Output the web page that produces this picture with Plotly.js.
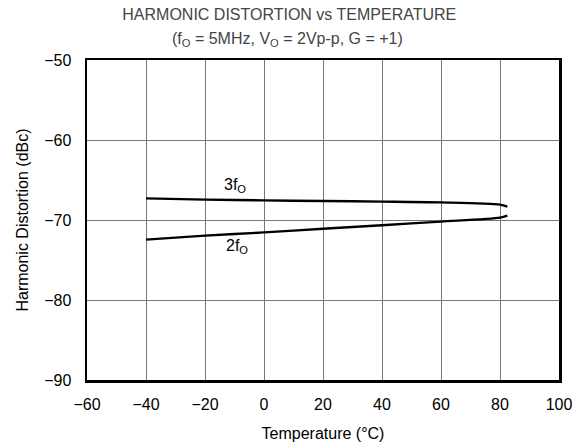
<!DOCTYPE html>
<html>
<head>
<meta charset="utf-8">
<script src="https://cdn.plot.ly/plotly-3.0.1.min.js"></script>
<style>html,body{margin:0;padding:0;background:#fff;}#chart{width:582px;height:447px;}</style>
</head>
<body>
<div id="chart"></div>
<script>
const temp3 = [-40, -20, 0, 20, 40, 60, 80, 82.5];
const hd3 = [-67.3, -67.45, -67.55, -67.63, -67.7, -67.8, -68.08, -68.33];
const temp2 = [-40, -20, 0, 20, 40, 60, 80, 82.5];
const hd2 = [-72.45, -71.95, -71.55, -71.1, -70.65, -70.2, -69.7, -69.45];
const xTicks = [-60, -40, -20, 0, 20, 40, 60, 80, 100];
const yTicks = [-90, -80, -70, -60, -50];
const seriesLabels = ['3f<sub>O</sub>', '2f<sub>O</sub>'];
const labelPos = [[-9.8, -65.7], [-9.3, -73.3]];

const font = 'Liberation Sans, Arial, sans-serif';
const traces = [
  {x: temp3, y: hd3, mode: 'lines', line: {color: '#000', width: 2.4, shape: 'spline', smoothing: 0.8}, showlegend: false},
  {x: temp2, y: hd2, mode: 'lines', line: {color: '#000', width: 2.4, shape: 'spline', smoothing: 0.8}, showlegend: false}
];
const layout = {
  width: 582, height: 447,
  margin: {l: 87, r: 23, t: 60, b: 67},
  paper_bgcolor: '#fff', plot_bgcolor: '#fff',
  font: {family: font, size: 16, color: '#000'},
  title: {text: 'HARMONIC DISTORTION vs TEMPERATURE', x: 0.497, xanchor: 'center', y: 0.968, yanchor: 'middle', font: {family: font, size: 16, color: '#444'}},
  annotations: [
    {text: '(f<sub>O</sub> = 5MHz, V<sub>O</sub> = 2Vp-p, G = +1)', xref: 'paper', yref: 'paper', x: 0.425, y: 1, xanchor: 'center', yanchor: 'bottom', yshift: 9, showarrow: false, font: {family: font, size: 16, color: '#444'}},
    {text: seriesLabels[0], x: labelPos[0][0], y: labelPos[0][1], showarrow: false, font: {family: font, size: 16, color: '#000'}},
    {text: seriesLabels[1], x: labelPos[1][0], y: labelPos[1][1], showarrow: false, font: {family: font, size: 16, color: '#000'}}
  ],
  xaxis: {
    range: [-60, 100], tickvals: xTicks, ticktext: xTicks.map(v => v < 0 ? '\u2212' + Math.abs(v) : String(v)),
    showgrid: true, gridcolor: '#777', gridwidth: 1, zeroline: false,
    showline: true, linecolor: '#000', linewidth: 2.5, mirror: true,
    ticks: 'outside', ticklen: 8, tickcolor: 'rgba(0,0,0,0)',
    title: {text: 'Temperature (\u00B0C)', font: {family: font, size: 16, color: '#000'}, standoff: 16},
    tickfont: {family: font, size: 16, color: '#000'}
  },
  yaxis: {
    range: [-90, -50], tickvals: yTicks, ticktext: yTicks.map(v => '\u2212' + Math.abs(v)),
    showgrid: true, gridcolor: '#777', gridwidth: 1, zeroline: false,
    showline: true, linecolor: '#000', linewidth: 2.5, mirror: true,
    ticks: 'outside', ticklen: 10, tickcolor: 'rgba(0,0,0,0)',
    title: {text: 'Harmonic Distortion (dBc)', font: {family: font, size: 16, color: '#000'}, standoff: 12},
    tickfont: {family: font, size: 16, color: '#000'}
  }
};
Plotly.newPlot('chart', traces, layout, {displayModeBar: false, staticPlot: true});
</script>
</body>
</html>
